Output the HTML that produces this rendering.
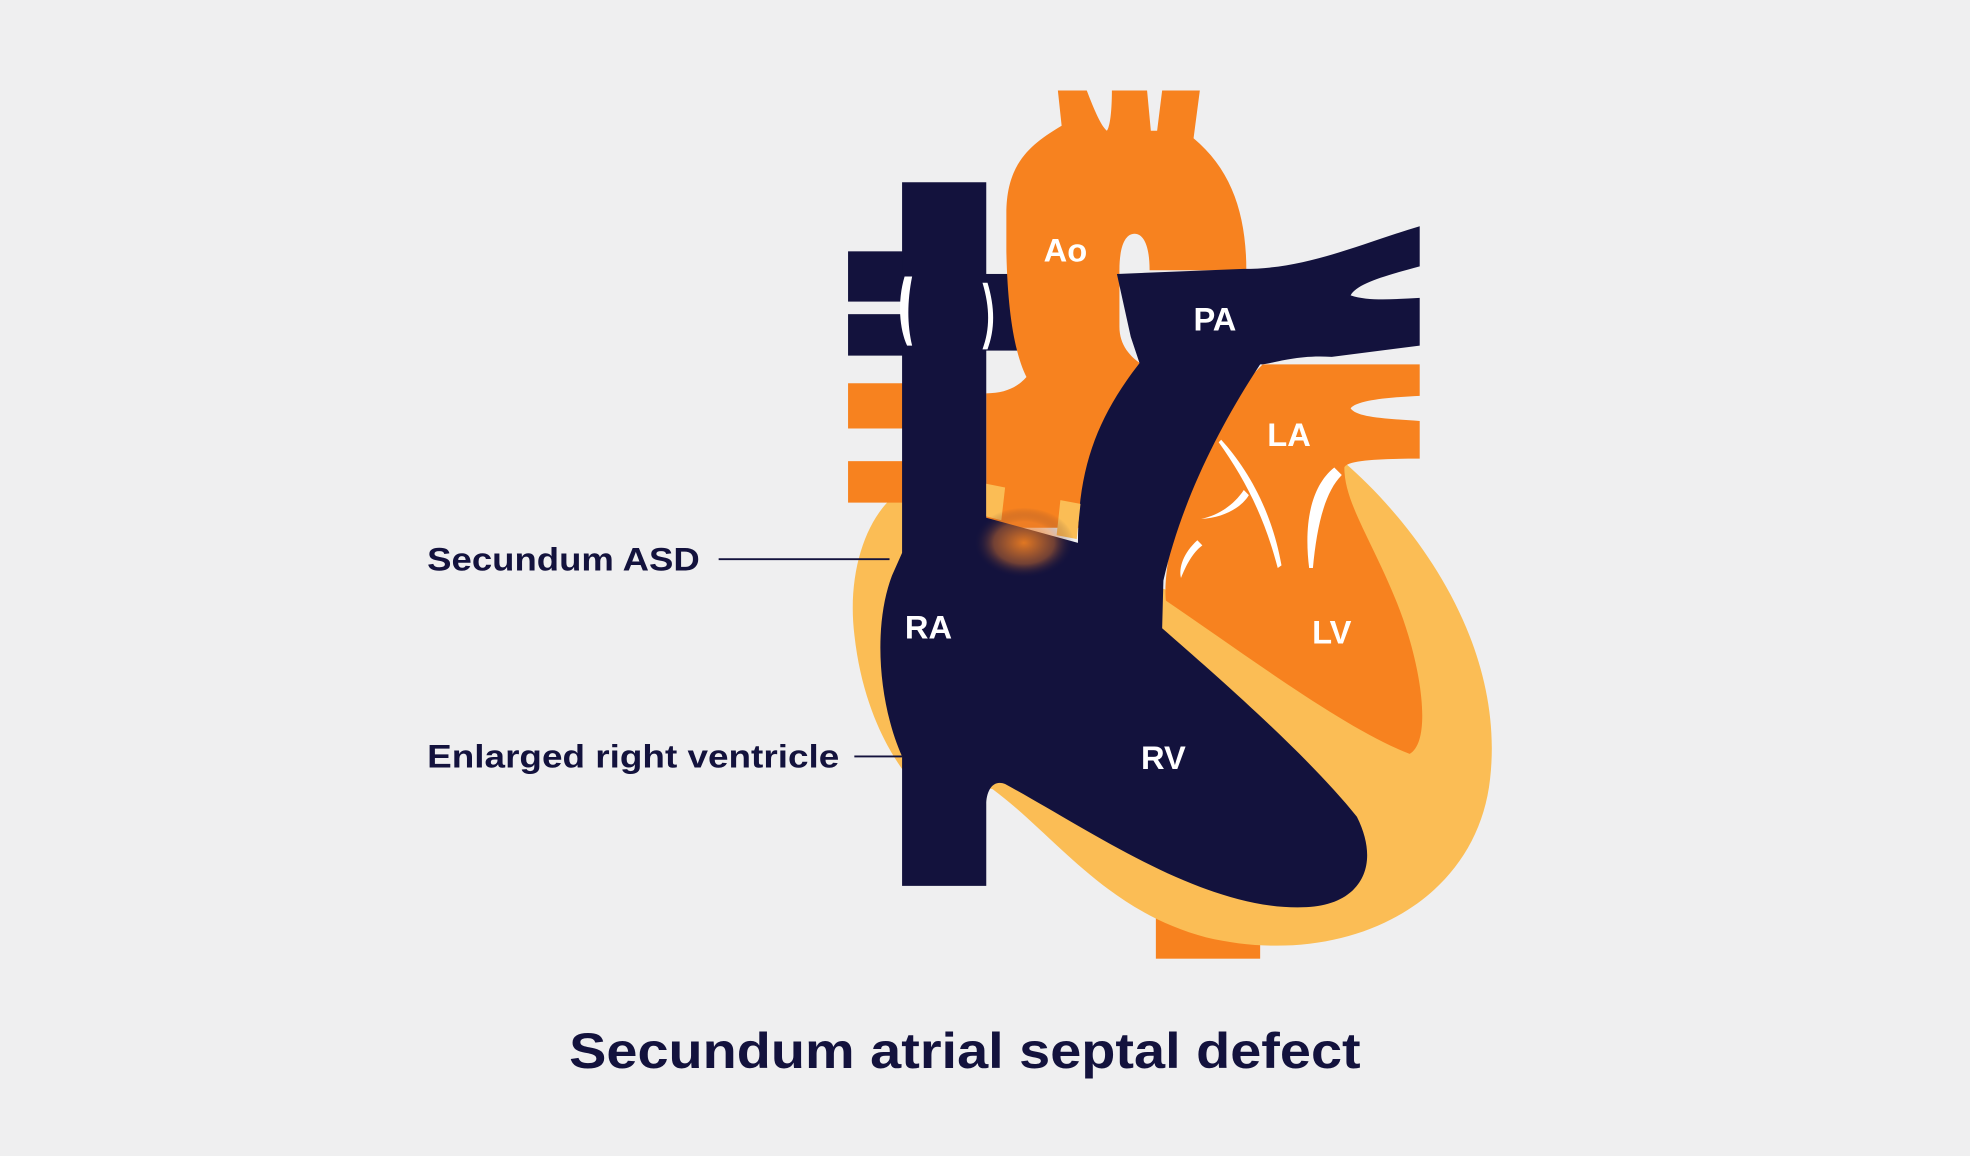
<!DOCTYPE html>
<html><head><meta charset="utf-8"><style>
html,body{margin:0;padding:0;background:#efeff0;}
svg{display:block}
text{font-family:"Liberation Sans",Arial,sans-serif;font-weight:bold}
</style></head><body>
<svg width="1970" height="1156" viewBox="0 0 1568 920" xmlns="http://www.w3.org/2000/svg">
<defs>
<radialGradient id="g" cx="0.5" cy="0.5" r="0.5">
<stop offset="0" stop-color="#f7821f" stop-opacity="0.9"/>
<stop offset="0.6" stop-color="#e5792a" stop-opacity="0.45"/>
<stop offset="1" stop-color="#13123d" stop-opacity="0"/>
</radialGradient>
</defs>
<rect width="1568" height="920" fill="#efeff0"/>
<rect x="920" y="700" width="83" height="63" fill="#f7821f"/>
<path d="M715 392 C690 410 674 455 680 505 C686 560 706 595 718 612 L790 628 C840 665 880 725 960 746 C1070 772 1175 720 1186 620 C1198 515 1130 420 1070 368 L1000 380 L930 470 Z" fill="#fbbd55"/>
<path d="M1005 290 C980 315 958 345 945 385 C932 425 926 460 928 478 C990 520 1070 580 1122 600 C1140 590 1132 530 1112 480 C1092 430 1070 400 1070 372 C1072 366 1100 365 1130 365 L1130 335 C1100 333 1080 332 1075 325 C1080 318 1110 316 1130 315 L1130 290 Z" fill="#f7821f"/>
<rect x="675" y="305" width="45" height="36" fill="#f7821f"/>
<rect x="675" y="367" width="45" height="33" fill="#f7821f"/>
<rect x="675" y="200" width="45" height="40" fill="#13123d"/>
<rect x="675" y="250" width="45" height="33" fill="#13123d"/>
<rect x="718" y="218" width="95" height="61" fill="#13123d"/>
<path d="M842 72 L865 72 C870 85 876 100 881 104 C884 100 885 85 885 72 L913 72 L916 104 L921 104 L925 72 L955 72 L950 110 C980 135 992 170 992 215 L915 215 C915 195 910 186 903 186 C896 186 891 195 891 215 L891 260 C891 275 900 285 912 292 L860 420 L785 420 L785 313 C800 313 810 308 817 300 C808 282 802 250 801 200 L801 170 C801 130 820 115 845 100 Z" fill="#f7821f"/>
<path d="M900 270 C905 272 915 275 920 280 L918 292 C910 290 903 285 900 270 Z" fill="#efeff0"/>
<path d="M718 145 L785 145 L785 412 L858 432 C858 370 875 330 907 289 L900 268 L889 218 L990 214 C1040 214 1080 195 1130 180 L1130 212 C1100 220 1080 226 1075 235 C1090 240 1110 238 1130 237 L1130 275 L1060 284 C1030 282 1012 290 1003 290 C970 340 940 400 926 462 L925 500 C965 535 1040 600 1080 650 C1100 690 1082 720 1040 722 C960 726 870 662 800 624 C790 620 785 630 785 640 L785 705 L718 705 L718 602 C700 562 694 500 710 458 L718 440 Z" fill="#13123d"/>
<polygon points="785,385 800,388 797,414 785,411" fill="#fbbd55"/>
<polygon points="844,398 860,401 857,429 841,426" fill="#fbbd55"/>
<ellipse cx="815" cy="432" rx="40" ry="28" fill="url(#g)"/>
<path d="M720 220 C714 240 716 262 722 275 L726 275 C722 258 722 240 726 220 Z" fill="#fff"/>
<path d="M782 225 C788 245 788 262 782 278 L786 278 C792 262 792 245 786 225 Z" fill="#fff"/>
<path d="M972 350 C992 372 1012 405 1020 450 L1017 452 C1006 410 990 380 970 352 Z" fill="#fff"/>
<path d="M1062 372 C1042 388 1038 420 1042 452 L1045 452 C1048 420 1054 392 1068 378 Z" fill="#fff"/>
<path d="M990 390 C982 402 970 410 956 413 C974 412 988 404 994 394 Z" fill="#fff"/>
<path d="M953 430 C942 440 938 452 940 460 C944 450 949 440 957 434 Z" fill="#fff"/>
<g fill="#fff" font-size="26" text-anchor="middle">
<text x="848" y="208">Ao</text>
<text x="967" y="263">PA</text>
<text x="1026" y="355">LA</text>
<text x="1060" y="512">LV</text>
<text x="739" y="508">RA</text>
<text x="926" y="612">RV</text>
</g>
<g fill="#13123d" font-size="26">
<text x="340" y="454" textLength="217" lengthAdjust="spacingAndGlyphs">Secundum ASD</text>
<text x="340" y="611" textLength="328" lengthAdjust="spacingAndGlyphs">Enlarged right ventricle</text>
</g>
<line x1="572" y1="445" x2="708" y2="445" stroke="#13123d" stroke-width="1.5"/>
<line x1="680" y1="602" x2="718" y2="602" stroke="#13123d" stroke-width="1.5"/>
<text x="453" y="850" font-size="40" fill="#13123d" textLength="630" lengthAdjust="spacingAndGlyphs">Secundum atrial septal defect</text>
</svg>
</body></html>
